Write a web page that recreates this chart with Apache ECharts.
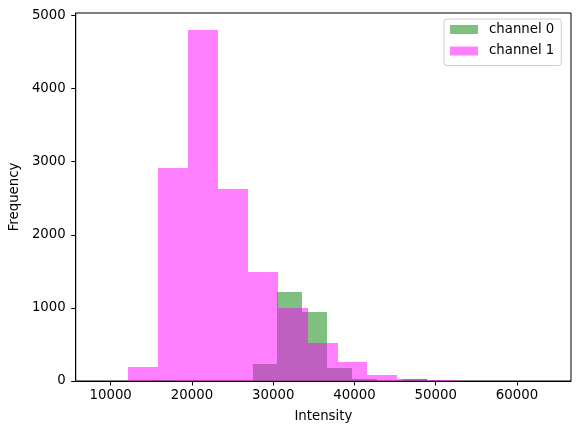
<!DOCTYPE html>
<html>
<head>
<meta charset="utf-8">
<script src="https://cdn.jsdelivr.net/npm/echarts@6/dist/echarts.min.js"></script>
<style>
  html, body { margin: 0; padding: 0; background: #fff; }
  #main { width: 581px; height: 435px; }
</style>
</head>
<body>
<div id="main"></div>
<script>
// histogram bins
const ch0Edges = [15215, 18276, 21337, 24398, 27459, 30520, 33581, 36642, 39703, 42764, 45825, 48886, 51947];
const ch0Counts = [18, 0, 0, 0, 235, 1213, 942, 183, 27, 3, 27, 5];
const ch1Edges = [12147, 15828, 19509, 23190, 26871, 30552, 34233, 37914, 41595, 45276, 48957, 52638];
const ch1Counts = [195, 2910, 4800, 2633, 1490, 1000, 522, 263, 86, 27, 12];
const xTicks = [10000, 20000, 30000, 40000, 50000, 60000];
const yTicks = [0, 1000, 2000, 3000, 4000, 5000];
const seriesNames = ['channel 0', 'channel 1'];

const font = 'DejaVu Sans';
const fs = 13.3;

function toBins(edges, counts) {
  return counts.map((c, i) => [edges[i], edges[i + 1], c]);
}

function renderBin(params, api) {
  const p0 = api.coord([api.value(0), api.value(2)]);
  const p1 = api.coord([api.value(1), 0]);
  // snap to whole pixels so neighbouring bins do not leave seams
  const x0 = Math.round(p0[0]), x1 = Math.round(p1[0]);
  const y0 = Math.round(p0[1]), y1 = p1[1];
  return {
    type: 'rect',
    shape: { x: x0, y: y0, width: x1 - x0, height: y1 - y0 },
    style: api.style({ stroke: null })
  };
}

let chart = echarts.init(document.getElementById('main'));
let option = {
  animation: false,
  backgroundColor: '#fff',
  textStyle: { fontFamily: font },
  grid: {
    left: 75, right: 10, top: 13, bottom: 54,
    show: true, borderColor: '#000', borderWidth: 1
  },
  legend: {
    orient: 'vertical',
    left: 444, top: 19,
    padding: [3, 7, 7, 6],
    itemWidth: 28, itemHeight: 9, itemGap: 6.5,
    borderColor: '#cccccc', borderWidth: 1, borderRadius: 3,
    backgroundColor: 'rgba(255,255,255,0.8)',
    textStyle: { fontFamily: font, fontSize: fs, color: '#000', lineHeight: 15, padding: [0, 0, 0, 6] },
    data: [
      { name: seriesNames[0], icon: 'rect', itemStyle: { color: '#80bf80', opacity: 1 } },
      { name: seriesNames[1], icon: 'rect', itemStyle: { color: '#ff80ff', opacity: 1 } }
    ]
  },
  xAxis: {
    type: 'value',
    min: 5700, max: 66650,
    name: 'Intensity', nameLocation: 'middle', nameGap: 29,
    nameTextStyle: { fontFamily: font, fontSize: fs, color: '#000' },
    axisLine: { show: true, lineStyle: { color: '#000', width: 1 } },
    axisTick: { show: true, length: 4.5, lineStyle: { color: '#000' }, customValues: xTicks },
    axisLabel: { fontFamily: font, fontSize: fs, color: '#000', margin: 8, customValues: xTicks,
      formatter: v => String(v) },
    splitLine: { show: false }
  },
  yAxis: {
    type: 'value',
    min: 0, max: 5035,
    name: 'Frequency', nameLocation: 'middle', nameGap: 53,
    nameTextStyle: { fontFamily: font, fontSize: fs, color: '#000' },
    axisLine: { show: true, lineStyle: { color: '#000', width: 1 } },
    axisTick: { show: true, length: 4.5, lineStyle: { color: '#000' }, customValues: yTicks },
    axisLabel: { fontFamily: font, fontSize: fs, color: '#000', margin: 10, customValues: yTicks,
      formatter: v => String(v) },
    splitLine: { show: false }
  },
  series: [
    {
      name: seriesNames[0],
      type: 'custom',
      renderItem: renderBin,
      itemStyle: { color: '#008000', opacity: 0.5 },
      encode: { x: [0, 1], y: 2 },
      data: toBins(ch0Edges, ch0Counts)
    },
    {
      name: seriesNames[1],
      type: 'custom',
      renderItem: renderBin,
      itemStyle: { color: '#ff00ff', opacity: 0.5 },
      encode: { x: [0, 1], y: 2 },
      data: toBins(ch1Edges, ch1Counts)
    }
  ]
};
chart.setOption(option);
</script>
</body>
</html>
